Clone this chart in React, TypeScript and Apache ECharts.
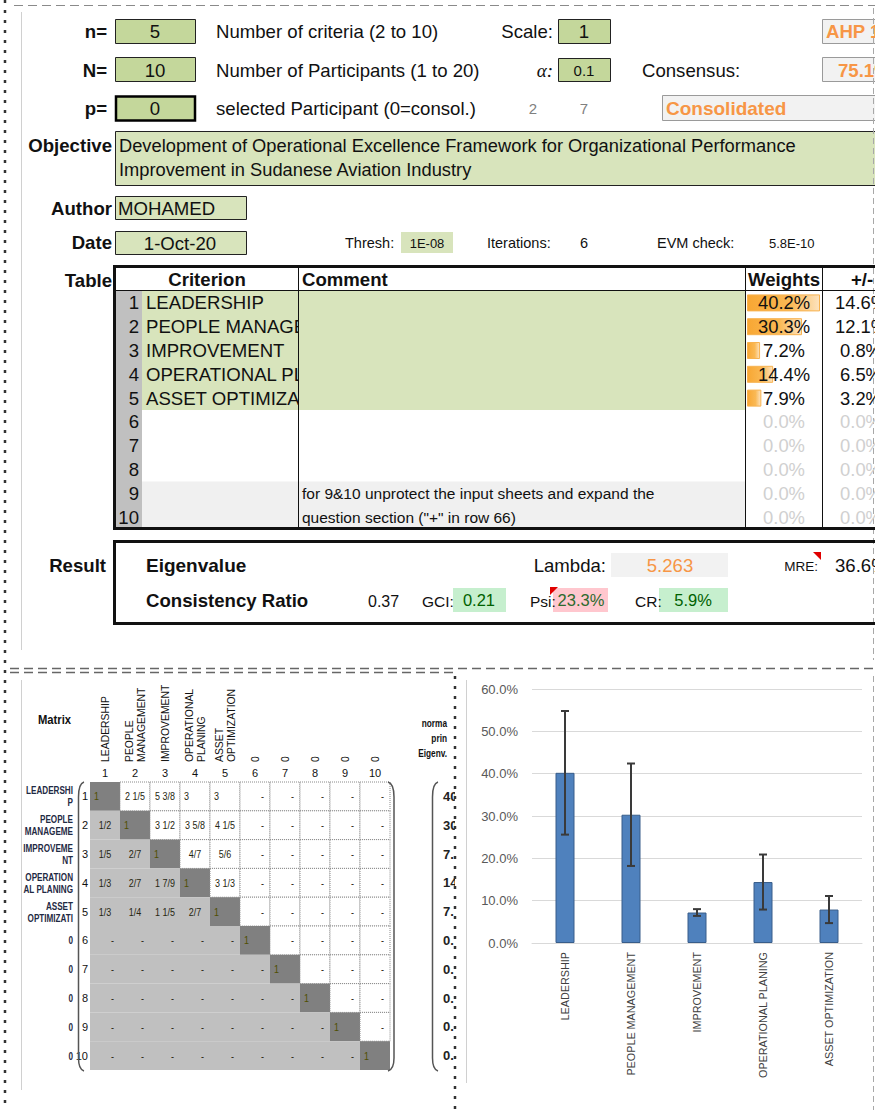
import React, { useEffect, useRef } from "react";
import * as echarts from "echarts";

// ---------------- data ----------------
const criteria = ["LEADERSHIP", "PEOPLE MANAGEMENT", "IMPROVEMENT", "OPERATIONAL PLANING", "ASSET OPTIMIZATION"];
const weights = [0.402, 0.303, 0.072, 0.144, 0.079];
const weightErrors = [0.146, 0.121, 0.008, 0.065, 0.032];
const yAxisRange = [0, 0.6];
const yAxisStep = 0.1;

const settingN = "5";
const settingParticipants = "10";
const settingSelected = "0";
const settingScale = "1";
const settingAlpha = "0.1";
const scaleName = "AHP 1-9";
const consensusValue = "75.1%";
const participantHints = ["2", "7"];
const consolidatedLabel = "Consolidated";
const objectiveLines = [
  "Development of Operational Excellence Framework for Organizational Performance",
  "Improvement in Sudanese Aviation Industry",
];
const authorName = "MOHAMED";
const dateText = "1-Oct-20";
const threshText = "1E-08";
const iterationsText = "6";
const evmCheckText = "5.8E-10";
const lambdaText = "5.263";
const mreText = "36.6%";
const ciText = "0.37";
const gciText = "0.21";
const psiText = "23.3%";
const crText = "5.9%";

const tableRowNumbers = ["1", "2", "3", "4", "5", "6", "7", "8", "9", "10"];
const tableComments = ["", "", "", "", "", "", "", "",
  "for 9&10 unprotect the input sheets and expand the",
  "question section (\"+\" in row 66)"];

const matrixHeaderLabels = ["LEADERSHIP", "PEOPLE\nMANAGEMENT", "IMPROVEMENT", "OPERATIONAL\nPLANING",
  "ASSET\nOPTIMIZATION", "0", "0", "0", "0", "0"];
const matrixRowLabels = ["LEADERSHI\nP", "PEOPLE\nMANAGEME", "IMPROVEME\nNT", "OPERATION\nAL PLANING",
  "ASSET\nOPTIMIZATI", "0", "0", "0", "0", "0"];
const matrixValues: string[][] = [
  ["1", "2 1/5", "5 3/8", "3", "3", "-", "-", "-", "-", "-"],
  ["1/2", "1", "3 1/2", "3 5/8", "4 1/5", "-", "-", "-", "-", "-"],
  ["1/5", "2/7", "1", "4/7", "5/6", "-", "-", "-", "-", "-"],
  ["1/3", "2/7", "1 7/9", "1", "3 1/3", "-", "-", "-", "-", "-"],
  ["1/3", "1/4", "1 1/5", "2/7", "1", "-", "-", "-", "-", "-"],
  ["-", "-", "-", "-", "-", "1", "-", "-", "-", "-"],
  ["-", "-", "-", "-", "-", "-", "1", "-", "-", "-"],
  ["-", "-", "-", "-", "-", "-", "-", "1", "-", "-"],
  ["-", "-", "-", "-", "-", "-", "-", "-", "1", "-"],
  ["-", "-", "-", "-", "-", "-", "-", "-", "-", "1"],
];

// ---------------- helpers ----------------
const FONT = "'Liberation Sans', Arial, Helvetica, sans-serif";

type TOpt = {
  size?: number; bold?: boolean; color?: string; align?: string; family?: string;
  italic?: boolean; z?: number; scaleX?: number;
};
const txt = (text: string, x: number, y: number, o: TOpt = {}) => ({
  type: "text", x, y, z: o.z ?? 10, silent: true, scaleX: o.scaleX ?? 1,
  style: {
    text, fill: o.color ?? "#111111", fontSize: o.size ?? 18.6, fontFamily: o.family ?? FONT,
    fontWeight: o.bold ? "bold" : "normal", fontStyle: o.italic ? "italic" : "normal",
    align: o.align ?? "left", textAlign: o.align ?? "left",
    verticalAlign: "middle", textVerticalAlign: "middle",
  },
});
const box = (x: number, y: number, w: number, h: number, fill: string, stroke?: string, lw = 1, z = 1) => ({
  type: "rect", z, silent: true, shape: { x, y, width: w, height: h },
  style: stroke ? { fill, stroke, lineWidth: lw } : { fill },
});
const ln = (x1: number, y1: number, x2: number, y2: number, stroke: string, lw = 1, dash?: number[], z = 8) => ({
  type: "line", z, silent: true, shape: { x1, y1, x2, y2 },
  style: dash ? { stroke, lineWidth: lw, lineDash: dash } : { stroke, lineWidth: lw },
});
const pct = (v: number) => (v * 100).toFixed(1) + "%";

function buildOption() {
  const ORANGE = "#f79646";
  const GREEN = "#c4d79b";
  const LGREEN = "#d8e4bc";
  const g: any[] = [];

  // frame
  g.push(ln(5, 0, 5, 1110, "#333333", 2.5, [3, 7], 30));
  g.push(ln(14, 5.5, 875, 5.5, "#8a8a8a", 1.2, [9, 5]));
  g.push(ln(21.5, 12, 21.5, 650, "#d0d0d0", 1));
  g.push(ln(873.5, 8, 873.5, 660, "#a8a8a8", 1, [6, 4]));
  g.push(ln(10, 668.5, 875, 668.5, "#666666", 1.5, [9, 5]));
  g.push(ln(10, 672.5, 455, 672.5, "#666666", 1.5, [9, 5]));
  g.push(ln(21.5, 680, 21.5, 1090, "#d0d0d0", 1));
  g.push(ln(466.5, 680, 466.5, 1083, "#d0d0d0", 1));
  g.push(ln(873.5, 676, 873.5, 1110, "#a8a8a8", 1, [6, 4]));
  g.push(box(455, 676, 9, 434, "#ffffff", undefined, 1, 25));
  g.push(ln(455, 676, 455, 1110, "#333333", 2.5, [3, 7], 30));

  // top settings
  const r1 = 31, r2 = 70, r3 = 108.5;
  g.push(txt("n=", 107, r1, { bold: true, align: "right" }));
  g.push(box(115.5, 19.5, 80, 24, GREEN, "#222", 1));
  g.push(txt(settingN, 155, r1, { align: "center" }));
  g.push(txt("Number of criteria (2 to 10)", 216, r1));
  g.push(txt("Scale:", 553, r1, { align: "right" }));
  g.push(box(558.5, 19.5, 52, 24, GREEN, "#222", 1));
  g.push(txt(settingScale, 584, r1, { align: "center" }));
  g.push(box(822.5, 19.5, 60, 24, "#f2f2f2", "#9a9a9a", 1));
  g.push(txt(scaleName, 826, r1, { bold: true, color: ORANGE }));

  g.push(txt("N=", 107, r2, { bold: true, align: "right" }));
  g.push(box(115.5, 57.5, 80, 24, GREEN, "#222", 1));
  g.push(txt(settingParticipants, 155, r2, { align: "center" }));
  g.push(txt("Number of Participants (1 to 20)", 216, r2));
  g.push(txt("α:", 553, r2, { align: "right", italic: true, family: "'Liberation Serif', 'DejaVu Serif', serif", size: 19 }));
  g.push(box(558.5, 58.5, 52, 23, GREEN, "#222", 1));
  g.push(txt(settingAlpha, 584, r2, { align: "center", size: 15 }));
  g.push(txt("Consensus:", 642, r2));
  g.push(box(822.5, 57.5, 60, 24, "#f2f2f2", "#9a9a9a", 1));
  g.push(txt(consensusValue, 838, r2, { bold: true, color: ORANGE }));

  g.push(txt("p=", 107, r3, { bold: true, align: "right" }));
  g.push(box(116, 96.5, 79, 24, GREEN, "#000", 2.5));
  g.push(txt(settingSelected, 155, r3, { align: "center" }));
  g.push(txt("selected Participant (0=consol.)", 216, r3));
  g.push(txt(participantHints[0], 533, r3, { align: "center", size: 15, color: "#808080" }));
  g.push(txt(participantHints[1], 584, r3, { align: "center", size: 15, color: "#808080" }));
  g.push(box(662.5, 95.5, 220, 25, "#f2f2f2", "#9a9a9a", 1));
  g.push(txt(consolidatedLabel, 666, r3, { bold: true, color: ORANGE, size: 19 }));

  // objective / author / date
  g.push(txt("Objective", 112, 145, { bold: true, align: "right" }));
  g.push(box(115.5, 131.5, 770, 54, LGREEN, "#222", 1));
  g.push(txt(objectiveLines[0], 119, 145, { size: 18.3 }));
  g.push(txt(objectiveLines[1], 119, 169, { size: 18.3 }));
  g.push(txt("Author", 112, 208, { bold: true, align: "right" }));
  g.push(box(115.5, 196.5, 131, 23, LGREEN, "#222", 1));
  g.push(txt(authorName, 118, 208));
  g.push(txt("Date", 112, 242, { bold: true, align: "right" }));
  g.push(box(115.5, 231.5, 131, 23, LGREEN, "#222", 1));
  g.push(txt(dateText, 180, 243, { align: "center" }));
  g.push(txt("Thresh:", 345, 243, { size: 14.5 }));
  g.push(box(401, 232, 52, 21, LGREEN));
  g.push(txt(threshText, 427, 243, { size: 13, align: "center" }));
  g.push(txt("Iterations:", 487, 243, { size: 14.5 }));
  g.push(txt(iterationsText, 580, 243, { size: 14.5 }));
  g.push(txt("EVM check:", 657, 243, { size: 14.5 }));
  g.push(txt(evmCheckText, 769, 243, { size: 13 }));

  // table
  const ROW_TOP = 291, ROW_H = 23.8;
  const rowY = (i: number) => ROW_TOP + ROW_H * (i + 0.5);
  g.push(txt("Table", 112, 280, { bold: true, align: "right" }));
  g.push(box(116, ROW_TOP, 26, ROW_H * 10, "#c0c0c0", undefined, 1, 1));
  g.push(box(142, ROW_TOP, 156, ROW_H * 5, LGREEN, undefined, 1, 1));
  g.push(box(142, ROW_TOP + ROW_H * 8, 156, ROW_H * 2, "#f0f0f0", undefined, 1, 1));
  g.push(box(299, ROW_TOP, 446, ROW_H * 5, LGREEN, undefined, 1, 6));
  g.push(box(299, ROW_TOP + ROW_H * 5, 446, ROW_H * 3, "#ffffff", undefined, 1, 6));
  g.push(box(299, ROW_TOP + ROW_H * 8, 446, ROW_H * 2, "#f0f0f0", undefined, 1, 6));
  g.push(txt("Criterion", 207, 279, { bold: true, align: "center" }));
  g.push(txt("Comment", 302, 279, { bold: true }));
  g.push(txt("Weights", 784, 279, { bold: true, align: "center" }));
  g.push(txt("+/-", 851, 279, { bold: true }));
  tableRowNumbers.forEach((num, i) => {
    const y = rowY(i);
    g.push(txt(num, 139, y, { align: "right", z: 7, size: 18.6 }));
    if (i < criteria.length) g.push(txt(criteria[i], 146, y, { z: 5, size: 18.6 }));
    if (tableComments[i]) g.push(txt(tableComments[i], 302, y, { size: 15.5, z: 7 }));
    const w = weights[i] ?? 0;
    const e = weightErrors[i] ?? 0;
    const active = i < criteria.length;
    g.push(txt(pct(w), 784, y, { align: "center", color: active ? "#111" : "#d0d0d0", z: 10, size: 18.4 }));
    g.push(txt(pct(e), 861, y, { align: "center", color: active ? "#111" : "#d0d0d0", z: 10, size: 18.4 }));
  });
  g.push(ln(298.5, 266, 298.5, 529, "#111", 1, undefined, 9));
  g.push(ln(745.5, 266, 745.5, 529, "#111", 1, undefined, 9));
  g.push(ln(822.5, 266, 822.5, 529, "#111", 1, undefined, 9));
  g.push(ln(114, 290.5, 880, 290.5, "#111", 1, undefined, 9));
  g.push({ type: "polyline", z: 9, silent: true, shape: { points: [[880, 266.5], [114.5, 266.5], [114.5, 528.5], [880, 528.5]] },
    style: { stroke: "#111", lineWidth: 3, fill: null } });

  // result
  g.push({ type: "polyline", z: 9, silent: true, shape: { points: [[880, 541.5], [114.5, 541.5], [114.5, 623.5], [880, 623.5]] },
    style: { stroke: "#111", lineWidth: 3, fill: null } });
  g.push(txt("Result", 106, 565, { bold: true, align: "right" }));
  g.push(txt("Eigenvalue", 146, 565, { bold: true, size: 19 }));
  g.push(txt("Lambda:", 606, 565, { align: "right" }));
  g.push(box(611, 553, 117, 24, "#f2f2f2"));
  g.push(txt(lambdaText, 670, 565, { align: "center", color: ORANGE }));
  g.push(txt("MRE:", 818, 566, { size: 13.5, align: "right" }));
  g.push({ type: "polygon", z: 11, silent: true, shape: { points: [[813, 552], [821, 552], [821, 560]] }, style: { fill: "#e00000" } });
  g.push(txt(mreText, 835, 565));
  g.push(txt("Consistency Ratio", 146, 600, { bold: true, size: 18.6 }));
  g.push(txt(ciText, 368, 601, { size: 16 }));
  g.push(txt("GCI:", 422, 601, { size: 15.5 }));
  g.push(box(453, 588, 53, 24, "#c6efce"));
  g.push(txt(gciText, 479, 600, { size: 16.5, align: "center", color: "#006100" }));
  g.push(txt("Psi:", 530, 601, { size: 15.5 }));
  g.push(box(553, 588, 55, 24, "#ffc7ce"));
  g.push({ type: "polygon", z: 11, silent: true, shape: { points: [[550, 587], [558, 587], [550, 595]] }, style: { fill: "#e00000" } });
  g.push(txt(psiText, 581, 600, { size: 16.5, align: "center", color: "#2d6a2d" }));
  g.push(txt("CR:", 635, 601, { size: 15.5 }));
  g.push(box(659, 588, 69, 24, "#c6efce"));
  g.push(txt(crText, 693, 600, { size: 16.5, align: "center", color: "#006100" }));

  // matrix panel labels and parentheses
  g.push(txt("Matrix", 38, 720, { bold: true, size: 12.5, scaleX: 0.9 }));
  g.push(txt("norma", 447, 723, { bold: true, size: 11.5, scaleX: 0.72, align: "right" }));
  g.push(txt("prin", 447, 738, { bold: true, size: 11.5, scaleX: 0.72, align: "right" }));
  g.push(txt("Eigenv.", 447, 753, { bold: true, size: 11.5, scaleX: 0.72, align: "right" }));
  const paren = (xOut: number, xIn: number) => {
    const st = { stroke: "#555555", lineWidth: 1.5, fill: null };
    g.push({ type: "bezierCurve", z: 12, silent: true, style: st,
      shape: { x1: xOut, y1: 782, cpx1: xOut + (xIn - xOut) * 0.6, cpy1: 783, cpx2: xIn, cpy2: 788, x2: xIn, y2: 797 } });
    g.push({ type: "line", z: 12, silent: true, style: st, shape: { x1: xIn, y1: 797, x2: xIn, y2: 1058 } });
    g.push({ type: "bezierCurve", z: 12, silent: true, style: st,
      shape: { x1: xIn, y1: 1058, cpx1: xIn, cpy1: 1066, cpx2: xOut + (xIn - xOut) * 0.6, cpy2: 1070, x2: xOut, y2: 1071 } });
  };
  paren(84, 78.5);
  paren(388, 394);
  paren(438, 432.5);

  const matrixCells: number[][] = [];
  for (let r = 0; r < 10; r++) for (let c = 0; c < 10; c++) matrixCells.push([c, r]);
  const eigenCells = tableRowNumbers.map((_, i) => Math.floor((weights[i] ?? 0) * 100) + ".");

  const hiddenAxis = { show: false };
  const noLine = { axisLine: { show: false }, axisTick: { show: false }, splitLine: { show: false } };

  const narrowText = (text: string, x: number, y: number, size: number, align: string, fill: string, bold = false, sx = 0.78, extra: any = {}) => ({
    type: "text", x, y, scaleX: sx, ...extra,
    style: {
      text, fill, fontSize: size, fontFamily: FONT, fontWeight: bold ? "bold" : "normal", lineHeight: 12,
      align, textAlign: align, verticalAlign: "middle", textVerticalAlign: "middle",
    },
  });

  return {
    animation: false,
    backgroundColor: "#ffffff",
    textStyle: { fontFamily: FONT },
    grid: [
      { left: 532, top: 689, width: 330, height: 254, outerBoundsMode: "none" },
      { left: 747, top: ROW_TOP, width: 75, height: ROW_H * 10, outerBoundsMode: "none" },
      { left: 90, top: 782, width: 300, height: 288, outerBoundsMode: "none" },
    ],
    xAxis: [
      {
        gridIndex: 0, type: "category", data: criteria,
        axisLine: { lineStyle: { color: "#d9d9d9" } }, axisTick: { show: false },
        axisLabel: { rotate: 90, interval: 0, margin: 9, color: "#404040", fontSize: 10.8, fontFamily: FONT },
      },
      { gridIndex: 1, type: "value", min: 0, max: 0.413, ...hiddenAxis },
      {
        gridIndex: 2, type: "category", position: "top", data: tableRowNumbers, ...noLine,
        axisLabel: { interval: 0, margin: 4, fontSize: 11, fontFamily: FONT, color: "#111" },
      },
    ],
    yAxis: [
      {
        gridIndex: 0, type: "value", min: yAxisRange[0], max: yAxisRange[1], interval: yAxisStep,
        axisLine: { show: false }, axisTick: { show: false },
        splitLine: { lineStyle: { color: "#d9d9d9", width: 1 } },
        axisLabel: { formatter: (v: number) => pct(v), color: "#595959", fontSize: 13, margin: 14, fontFamily: FONT },
      },
      { gridIndex: 1, type: "category", inverse: true, data: tableRowNumbers, ...hiddenAxis },
      {
        gridIndex: 2, type: "category", position: "left", inverse: true, data: tableRowNumbers, ...noLine,
        axisLabel: { interval: 0, margin: 2, fontSize: 11, fontFamily: FONT, color: "#111" },
      },
      {
        gridIndex: 2, type: "category", position: "right", offset: 50, inverse: true, data: eigenCells, ...noLine,
        axisLabel: { interval: 0, margin: 3, fontSize: 13, fontWeight: "bold", fontFamily: FONT, color: "#222", align: "left" },
      },
    ],
    series: [
      {
        type: "bar", xAxisIndex: 0, yAxisIndex: 0, data: weights, barWidth: 19, z: 2,
        itemStyle: { color: "#4f81bd", borderColor: "#385d8a", borderWidth: 1 },
      },
      {
        type: "custom", xAxisIndex: 0, yAxisIndex: 0, z: 3,
        data: weights.map((w, i) => [i, w - weightErrors[i], w + weightErrors[i]]),
        encode: { x: 0, y: [1, 2] },
        renderItem: (_p: any, api: any) => {
          const i = api.value(0);
          const lo = api.coord([i, api.value(1)]);
          const hi = api.coord([i, api.value(2)]);
          const x = hi[0];
          const st = { stroke: "#3a3a3a", lineWidth: 2 };
          return {
            type: "group",
            children: [
              { type: "line", shape: { x1: x, y1: hi[1], x2: x, y2: lo[1] }, style: st },
              { type: "line", shape: { x1: x - 4, y1: hi[1], x2: x + 4, y2: hi[1] }, style: st },
              { type: "line", shape: { x1: x - 4, y1: lo[1], x2: x + 4, y2: lo[1] }, style: st },
            ],
          };
        },
      },
      {
        type: "bar", xAxisIndex: 1, yAxisIndex: 1, data: weights, barWidth: 17, z: 2,
        itemStyle: {
          color: new echarts.graphic.LinearGradient(0, 0, 1, 0, [
            { offset: 0, color: "#f8a733" },
            { offset: 0.6, color: "#fab955" },
            { offset: 1, color: "#fde3bf" },
          ]),
          borderColor: "#f7b24f", borderWidth: 1,
        },
      },
      {
        type: "custom", xAxisIndex: 2, yAxisIndex: 2, z: 2,
        data: matrixCells,
        encode: { x: 0, y: 1 },
        renderItem: (_p: any, api: any) => {
          const c = api.value(0) as number;
          const r = api.value(1) as number;
          const center = api.coord([c, r]);
          const size = api.size([1, 1]);
          const w = size[0], h = size[1];
          const x0 = center[0] - w / 2, y0 = center[1] - h / 2;
          const v = matrixValues[r][c];
          const diag = c === r, upper = c > r;
          const fill = diag ? "#808080" : upper ? "#ffffff" : "#c0c0c0";
          let align = "center";
          let tx = center[0];
          if (v === "-") { align = "right"; tx = x0 + w - 6; }
          else if (v.indexOf("/") < 0) { align = "left"; tx = x0 + 4; }
          const rectStyle: any = { fill };
          if (upper) { rectStyle.stroke = "#8a8a8a"; rectStyle.lineWidth = 1; rectStyle.lineDash = [1, 1]; }
          const children: any[] = [
            { type: "rect", shape: { x: x0, y: y0, width: w, height: h }, style: rectStyle },
            narrowText(v, tx, center[1], 11.5, align, diag ? "#4f4f00" : "#262610"),
          ];
          if (c === 0) {
            children.push(narrowText(matrixRowLabels[r], x0 - 17, center[1], 11, "right", "#1f2a44", true, 0.74));
          }
          if (r === 0) {
            children.push(narrowText(matrixHeaderLabels[c], center[0], y0 - 20, 10.4, "left", "#111111", false, 1,
              { rotation: Math.PI / 2 }));
          }
          return { type: "group", children };
        },
      },
    ],
    graphic: { elements: g },
  };
}

export default function App() {
  const ref = useRef<HTMLDivElement | null>(null);
  useEffect(() => {
    document.body.style.margin = "0";
    const el = ref.current;
    if (!el) return;
    const chart = echarts.init(el, undefined, { renderer: "svg" });
    chart.setOption(buildOption() as any);
    return () => {
      chart.dispose();
    };
  }, []);
  return (
    <div
      ref={ref}
      style={{ position: "absolute", left: 0, top: 0, width: 875, height: 1110, background: "#ffffff" }}
    />
  );
}
